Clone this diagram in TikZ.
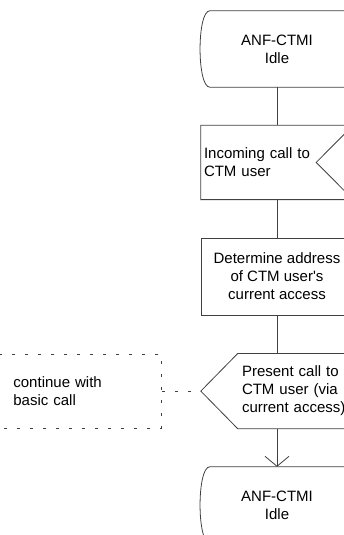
\documentclass[tikz,border=0pt]{standalone}
\usepackage{fontspec}
\setmainfont{Liberation Sans}
\usetikzlibrary{arrows.meta, positioning}
\tikzset{flow/.style={draw=black!75, line width=0.8pt},
         sdlbox/.style={minimum width=152pt, minimum height=75pt, inner sep=2pt,
                        font=\fontsize{15}{18}\selectfont},
         commentbox/.style={sdlbox, draw=black!75, line width=0.8pt,
                            dash pattern=on 3pt off 10pt},
         node distance=38pt}
% SDL state symbol: straight top and bottom, bowed sides
\newcommand{\stateoutline}[1]{%
  \draw[flow] ([xshift=10pt]#1.north west) -- ([xshift=-10pt]#1.north east)
    .. controls ([xshift=3pt]#1.north east) and ([xshift=3pt]#1.south east) .. ([xshift=-10pt]#1.south east)
    -- ([xshift=10pt]#1.south west)
    .. controls ([xshift=-3pt]#1.south west) and ([xshift=-3pt]#1.north west) .. cycle;}

\begin{document}
\begin{tikzpicture}[x=1pt, y=-1pt]
\useasboundingbox (0,0) rectangle (344,535);
\clip (0,0) rectangle (344,535);

\node[sdlbox, minimum width=154pt, minimum height=76pt, align=center] (idle1) at (277,49) {ANF-CTMI\\Idle};
\node[sdlbox, minimum height=74pt, text width=146pt, align=left, below=of idle1] (incoming) {Incoming call to\\CTM user};
\node[sdlbox, flow, minimum height=77pt, align=center, below=of incoming] (determine) {Determine address\\of CTM user\textquotesingle s\\current access};
\node[sdlbox, minimum width=115pt, text width=107pt, inner xsep=4pt, align=left,
      below=of determine, xshift=18.5pt] (present) {Present call to\\CTM user (via\\current access)};
\coordinate (incomingnotch) at ([xshift=-37pt]incoming.east);
\coordinate (presenttip) at ([xshift=-37pt]present.west);
\coordinate (presentbottom) at (present.south -| determine);
\node[sdlbox, minimum width=154pt, minimum height=76pt, align=center, below=of presentbottom] (idle2) {ANF-CTMI\\Idle};
\node[commentbox, minimum width=170pt, minimum height=74pt, text width=126pt, align=left,
      left=39pt of presenttip] (basic) {continue with\\basic call};

% outlines
\stateoutline{idle1}
\draw[flow] (incoming.north east) -- (incoming.north west) -- (incoming.south west)
  -- (incoming.south east) -- (incomingnotch) -- cycle;
\draw[flow] (present.north east) -- (present.north west) -- (presenttip)
  -- (present.south west) -- (present.south east) -- cycle;
\stateoutline{idle2}

% flow lines
\draw[flow] (idle1) -- (incoming);
\draw[flow] (incoming) -- (determine);
\draw[flow] (determine) -- (present.north -| determine);
\draw[flow, -{Straight Barb[length=10pt, width=24pt]}] (presentbottom) -- (idle2);
\draw[flow, dash pattern=on 3pt off 10pt] (basic) -- (presenttip);
\end{tikzpicture}
\end{document}
